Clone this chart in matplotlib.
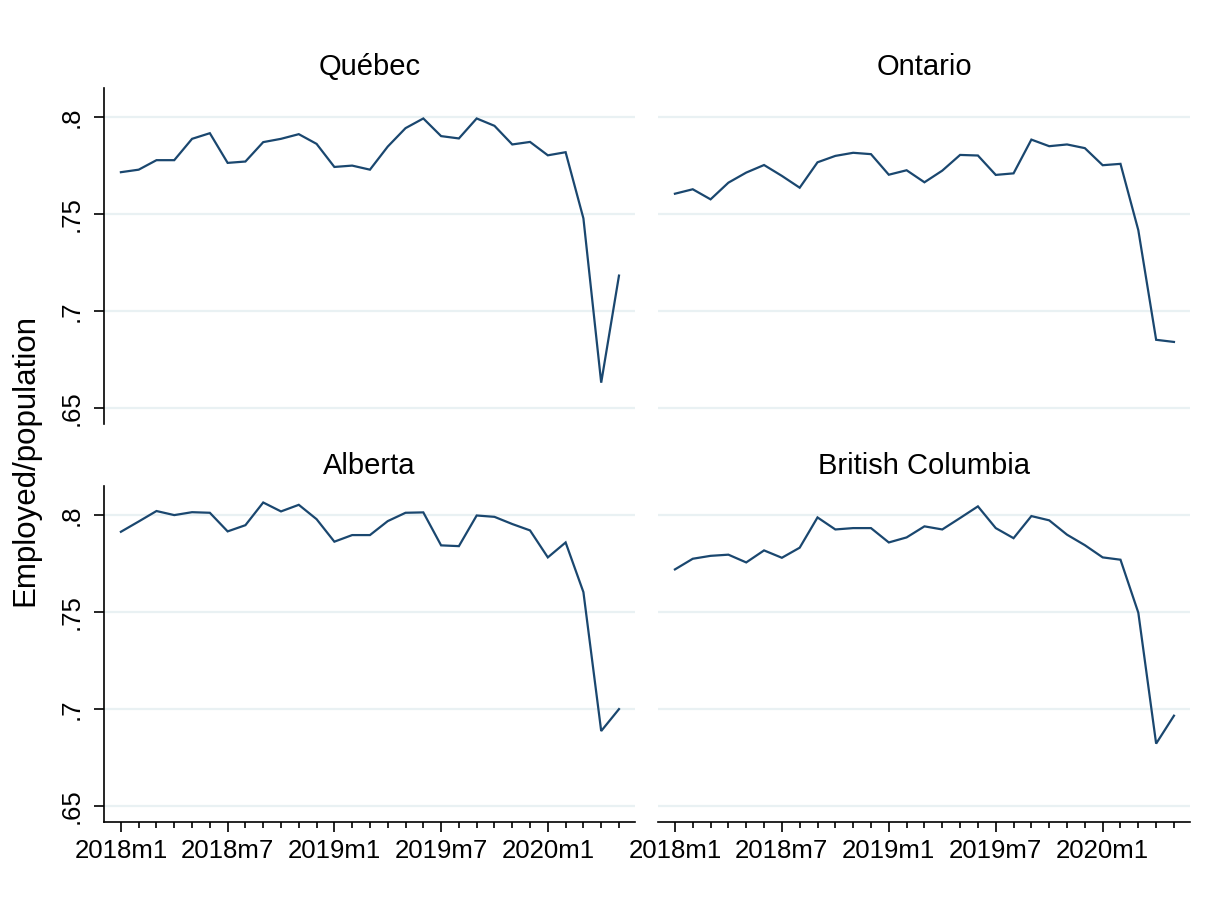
import matplotlib
matplotlib.use("Agg")
import matplotlib.pyplot as plt
from matplotlib.ticker import FixedLocator, NullFormatter

plt.rcParams['font.family'] = ['Liberation Sans', 'DejaVu Sans']

months = ["2018m1", "2018m2", "2018m3", "2018m4", "2018m5", "2018m6",
          "2018m7", "2018m8", "2018m9", "2018m10", "2018m11", "2018m12",
          "2019m1", "2019m2", "2019m3", "2019m4", "2019m5", "2019m6",
          "2019m7", "2019m8", "2019m9", "2019m10", "2019m11", "2019m12",
          "2020m1", "2020m2", "2020m3", "2020m4", "2020m5"]

quebec = [0.7716, 0.7729, 0.7778, 0.7778, 0.7888, 0.7917, 0.7764, 0.7771,
          0.7871, 0.7888, 0.7912, 0.7862, 0.7743, 0.7750, 0.7729, 0.7848,
          0.7943, 0.7993, 0.7902, 0.7890, 0.7993, 0.7955, 0.7859, 0.7872,
          0.7803, 0.7819, 0.7478, 0.6631, 0.7183]
ontario = [0.7605, 0.7628, 0.7576, 0.7662, 0.7714, 0.7753, 0.7697, 0.7636,
           0.7767, 0.7800, 0.7816, 0.7809, 0.7703, 0.7726, 0.7664, 0.7724,
           0.7805, 0.7802, 0.7702, 0.7710, 0.7884, 0.7850, 0.7859, 0.7840,
           0.7752, 0.7759, 0.7417, 0.6852, 0.6841]
alberta = [0.7914, 0.7967, 0.8021, 0.8000, 0.8015, 0.8012, 0.7916, 0.7948,
           0.8065, 0.8019, 0.8053, 0.7979, 0.7863, 0.7897, 0.7897, 0.7969,
           0.8012, 0.8014, 0.7844, 0.7840, 0.7998, 0.7991, 0.7954, 0.7921,
           0.7782, 0.7859, 0.7603, 0.6887, 0.7000]
bc = [0.7720, 0.7775, 0.7790, 0.7796, 0.7756, 0.7818, 0.7780, 0.7832,
      0.7988, 0.7926, 0.7933, 0.7933, 0.7859, 0.7885, 0.7942, 0.7926,
      0.7985, 0.8045, 0.7933, 0.7881, 0.7995, 0.7973, 0.7899, 0.7845,
      0.7782, 0.7770, 0.7497, 0.6822, 0.6966]

titles = ["Québec", "Ontario", "Alberta", "British Columbia"]
series = [quebec, ontario, alberta, bc]
yticks = [0.65, 0.70, 0.75, 0.80]
ytick_labels = [".65", ".7", ".75", ".8"]
xlabel_months = ["2018m1", "2018m7", "2019m1", "2019m7", "2020m1"]

W, H = 1225, 909
fig = plt.figure(figsize=(W / 100, H / 100), dpi=100)

line_color = "#1a476f"
grid_color = "#e9f1f3"

# panel rectangles in pixels: (left, top, right, bottom)
rects = [(104, 88, 635, 424), (658, 88, 1190, 424),
         (104, 486, 635, 822), (658, 486, 1190, 822)]

x = list(range(len(months)))
major_idx = [months.index(m) for m in xlabel_months]
minor_idx = [i for i in x if i not in major_idx]

for k, (l, t, r, b) in enumerate(rects):
    ax = fig.add_axes([l / W, 1 - b / H, (r - l) / W, (b - t) / H])
    ax.plot(x, series[k], color=line_color, lw=1.6, solid_joinstyle='miter')
    ax.set_xlim(-0.95, 28.9)
    ax.set_ylim(0.6418, 0.815)
    for yv in yticks:
        ax.axhline(yv, color=grid_color, lw=1.6, zorder=0)
    for s in ["top", "right"]:
        ax.spines[s].set_visible(False)
    left_col = k in (0, 2)
    bottom_row = k in (2, 3)
    ax.spines["left"].set_visible(left_col)
    ax.spines["bottom"].set_visible(bottom_row)
    for s in ["left", "bottom"]:
        ax.spines[s].set_linewidth(1.2)
        ax.spines[s].set_color("black")
    if left_col:
        ax.set_yticks(yticks)
        ax.set_yticklabels(ytick_labels, rotation=90, va='center',
                           fontsize=18.5)
        ax.tick_params(axis='y', length=7, width=1.2, pad=8)
    else:
        ax.set_yticks([])
    if bottom_row:
        ax.xaxis.set_major_locator(FixedLocator(major_idx))
        ax.xaxis.set_minor_locator(FixedLocator(minor_idx))
        ax.set_xticklabels(xlabel_months, fontsize=18.5)
        ax.xaxis.set_minor_formatter(NullFormatter())
        ax.tick_params(axis='x', which='major', length=7, width=1.2, pad=5)
        ax.tick_params(axis='x', which='minor', length=4.5, width=1.2)
    else:
        ax.set_xticks([])
    ax.set_title(titles[k], fontsize=21, pad=9)

fig.text(25 / W, 1 - 460 / H, "Employed/population", rotation=90,
         ha='center', va='center', fontsize=22.5)

fig.savefig("out.png", dpi=100, facecolor="white")
